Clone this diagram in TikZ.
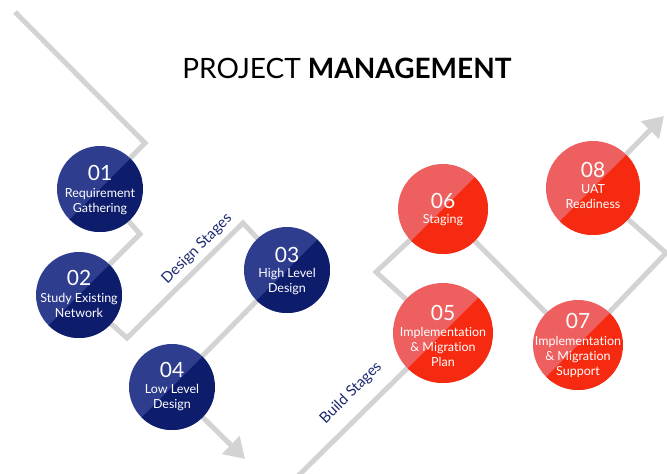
\documentclass[tikz,border=0pt]{standalone}
\usepackage{fontspec}
\setmainfont{Lato}[Ligatures={NoCommon}]
\usetikzlibrary{arrows.meta}
\pgfdeclarelayer{background}
\pgfdeclarelayer{paper}
\pgfsetlayers{paper,background,main}
\definecolor{lgray}{HTML}{D3D3D3}
\definecolor{blueL}{HTML}{2E3D8E}
\definecolor{blueD}{HTML}{0E1C6C}
\definecolor{redL}{HTML}{EE5F5F}
\definecolor{redD}{HTML}{F52A10}
\definecolor{navy}{HTML}{1E2A70}
\tikzset{
  disc/.style={circle, inner sep=0pt},
  numtxt/.style={anchor=base, text=white, font=\fontsize{21}{21}\selectfont, inner sep=0pt},
  lbltxt/.style={anchor=base, text=white, font=\fontsize{12.5}{15}\selectfont, inner sep=0pt},
  track/.style={draw=lgray, line width=5pt, line join=miter},
  tracktip/.style={-{Triangle[length=20pt,width=24pt]}},
  stagelbl/.style={text=navy, font=\fontsize{15}{17}\selectfont, rotate=45, inner sep=0pt}
}
% #1 name #2 x #3 y #4 r #5 scheme #6 number #7 number baseline #8 label baseline #9 label lines
\newcommand\stagedisc[9]{%
  \node[disc, minimum size=2*#4pt] (#1) at (#2,#3) {};
  \begin{scope}
    \clip (#2,#3) circle (#4pt);
    \fill[#5L] (#2-#4,#3-#4) rectangle (#2+#4,#3+#4);
    \fill[#5D] (#2+#4,#3-#4) -- (#2+#4,#3+#4) -- (#2-#4,#3+#4) -- cycle;
  \end{scope}
  \node[numtxt] (#1n) at (#2,#7) {#6};
  \node[lbltxt] (#1l) at (#2,#8) {\begin{tabular}[t]{@{}c@{}}#9\end{tabular}};
}
\begin{document}
\begin{tikzpicture}[x=1pt,y=-1pt]
\useasboundingbox (0,0) rectangle (667,474);
\begin{pgfonlayer}{paper}
\fill[white] (0,0) rectangle (667,474);
\end{pgfonlayer}

\node[anchor=base, inner sep=0pt, font=\fontsize{28}{30}\selectfont] (title) at (347,78) {PROJECT \textbf{MANAGEMENT}};

\stagedisc{c1}{100}{189}{43}{blue}{01}{180}{197}{Requirement\\Gathering}
\stagedisc{c2}{79}{295}{43}{blue}{02}{285}{302}{Study Existing\\Network}
\stagedisc{c3}{287}{270}{43}{blue}{03}{262}{277}{High Level\\Design}
\stagedisc{c4}{172}{387}{43}{blue}{04}{377}{393}{Low Level\\Design}
\stagedisc{c5}{443}{333}{50}{red}{05}{320}{336}{Implementation\\\& Migration\\Plan}
\stagedisc{c6}{443}{209}{45}{red}{06}{208}{223}{Staging}
\stagedisc{c7}{578}{345}{45}{red}{07}{328}{345}{Implementation\\\& Migration\\Support}
\stagedisc{c8}{593}{188}{47}{red}{08}{177}{193}{UAT\\Readiness}

\coordinate (s1) at (15,12);
\coordinate (k1) at (145,143);
\coordinate (k2) at (140,234);
\coordinate (k3) at (127,338);
\coordinate (k4) at (243,223);
\coordinate (t1) at (245,459);
\coordinate (s2) at (298,476);
\coordinate (k5) at (376,272);
\coordinate (k6) at (666,253);
\coordinate (t2) at (664,116);

\begin{pgfonlayer}{background}
\draw[track, tracktip] (s1) -- (k1) -- (c1.center) -- (k2) -- (c2.center) -- (k3) -- (k4) -- (c3.center) -- (c4.center) -- (t1);
\draw[track, tracktip] (s2) -- (c5.center) -- (k5) -- (c6.center) -- (c7.center) -- (k6) -- (c8.center) -- (t2);
\end{pgfonlayer}

\node[stagelbl] (dlab) at (197,249) {Design Stages};
\node[stagelbl] (blab) at (351,393) {Build Stages};
\end{tikzpicture}
\end{document}
